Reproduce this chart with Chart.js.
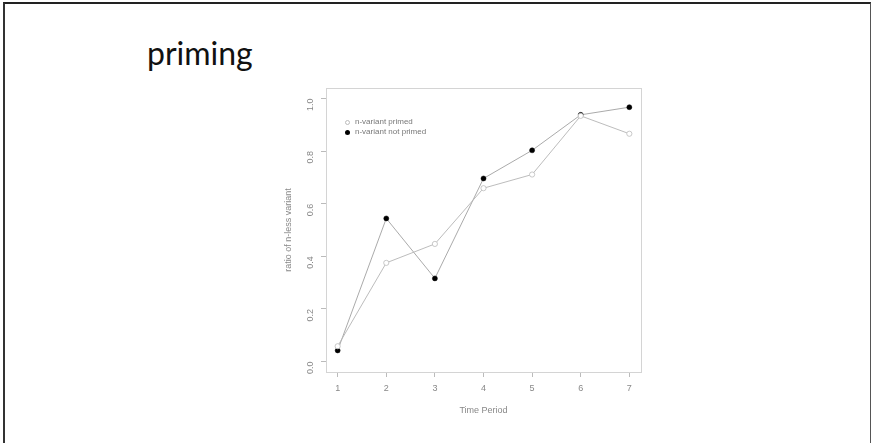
<!DOCTYPE html>
<html>
<head>
<meta charset="utf-8">
<script src="https://cdn.jsdelivr.net/npm/chart.js@4.4.0/dist/chart.umd.min.js"></script>
<style>
  html, body { margin: 0; padding: 0; background: #fff; }
  body { width: 872px; height: 443px; position: relative; overflow: hidden; }
  #frame { position: absolute; left: 3px; top: 2px; width: 865px; height: 439px;
           border-left: 2px solid #333; border-top: 2px solid #222; border-right: 1px solid #555; border-bottom: 1px solid #ddd; }
  #title { position: absolute; left: 147px; top: 37px; font-family: Lato, "Open Sans", sans-serif; font-size: 32px; line-height: 1; color: #111; }
  #wrap { position: absolute; left: 0; top: 0; width: 872px; height: 443px; }
  #legend { position: absolute; left: 345px; top: 117px; font-family: "Liberation Sans", Arial, sans-serif; font-size: 8px; color: #777; line-height: 10px; }
  #legend .row { display: flex; align-items: center; white-space: nowrap; }
  #legend .sym { width: 5px; height: 5px; border-radius: 50%; margin-right: 5px; box-sizing: border-box; }
</style>
</head>
<body>
<div id="frame"></div>
<div id="title">priming</div>
<div id="wrap"><canvas id="c" width="872" height="443"></canvas></div>
<div id="legend">
  <div class="row"><span class="sym" style="border:1px solid #bbb;background:#fff"></span><span id="lg0"></span></div>
  <div class="row"><span class="sym" style="background:#000"></span><span id="lg1"></span></div>
</div>
<script>
const timePeriods = [1, 2, 3, 4, 5, 6, 7];
const seriesNames = ["n-variant primed", "n-variant not primed"];
const primed = [0.058, 0.375, 0.447, 0.659, 0.711, 0.934, 0.866];
const notPrimed = [0.042, 0.544, 0.316, 0.696, 0.803, 0.938, 0.967];
const yTicks = [0, 0.2, 0.4, 0.6, 0.8, 1.0];
const xTitle = "Time Period";
const yTitle = "ratio of n-less variant";

document.getElementById('lg0').textContent = seriesNames[0];
document.getElementById('lg1').textContent = seriesNames[1];

const axisFont = { family: "'Liberation Sans', Arial, sans-serif", size: 9 };
const axisColor = '#888';

const boxPlugin = {
  id: 'box',
  afterDraw(chart) {
    const a = chart.chartArea, ctx = chart.ctx;
    ctx.save();
    ctx.strokeStyle = '#d4d4d4';
    ctx.lineWidth = 1;
    ctx.strokeRect(Math.round(a.left) + 0.5, Math.round(a.top) + 0.5, Math.round(a.right - a.left), Math.round(a.bottom - a.top));
    ctx.restore();
  }
};

new Chart(document.getElementById('c'), {
  type: 'line',
  data: {
    datasets: [
      {
        label: seriesNames[0],
        data: timePeriods.map((t, i) => ({ x: t, y: primed[i] })),
        borderColor: '#b4b4b4', borderWidth: 0.9,
        pointRadius: 2.6, pointBorderWidth: 0.8,
        pointBorderColor: '#bbb', pointBackgroundColor: '#fff',
        tension: 0
      },
      {
        label: seriesNames[1],
        data: timePeriods.map((t, i) => ({ x: t, y: notPrimed[i] })),
        borderColor: '#a0a0a0', borderWidth: 0.9,
        pointRadius: 2.5, pointBorderWidth: 0.5,
        pointBorderColor: '#000', pointBackgroundColor: '#000',
        tension: 0
      }
    ]
  },
  options: {
    responsive: false,
    animation: false,
    layout: { padding: { left: 276, right: 231, top: 88, bottom: 21 } },
    plugins: { legend: { display: false }, tooltip: { enabled: false } },
    scales: {
      x: {
        type: 'linear', min: 0.76, max: 7.24,
        afterFit(s) { s.height = 50; },
        ticks: { stepSize: 1, includeBounds: false, color: axisColor, font: axisFont, padding: 6,
                 callback: v => String(v) },
        afterBuildTicks(s) { s.ticks = timePeriods.map(v => ({ value: v })); },
        grid: { drawOnChartArea: false, drawTicks: true, tickLength: 5, color: '#bbb' },
        border: { display: false },
        title: { display: true, text: xTitle, color: axisColor, font: axisFont, padding: { top: 5, bottom: 6 } }
      },
      y: {
        min: -0.04, max: 1.04,
        afterFit(s) { s.width = 50; },
        afterBuildTicks(s) { s.ticks = yTicks.map(v => ({ value: v })); },
        ticks: { color: axisColor, font: axisFont, padding: 10, minRotation: 90, maxRotation: 90,
                 callback: v => v.toFixed(1) },
        grid: { drawOnChartArea: false, drawTicks: true, tickLength: 5, color: '#bbb' },
        border: { display: false },
        title: { display: true, text: yTitle, color: axisColor, font: axisFont, padding: { top: 7, bottom: 0 } }
      }
    }
  },
  plugins: [boxPlugin]
});
</script>
</body>
</html>
